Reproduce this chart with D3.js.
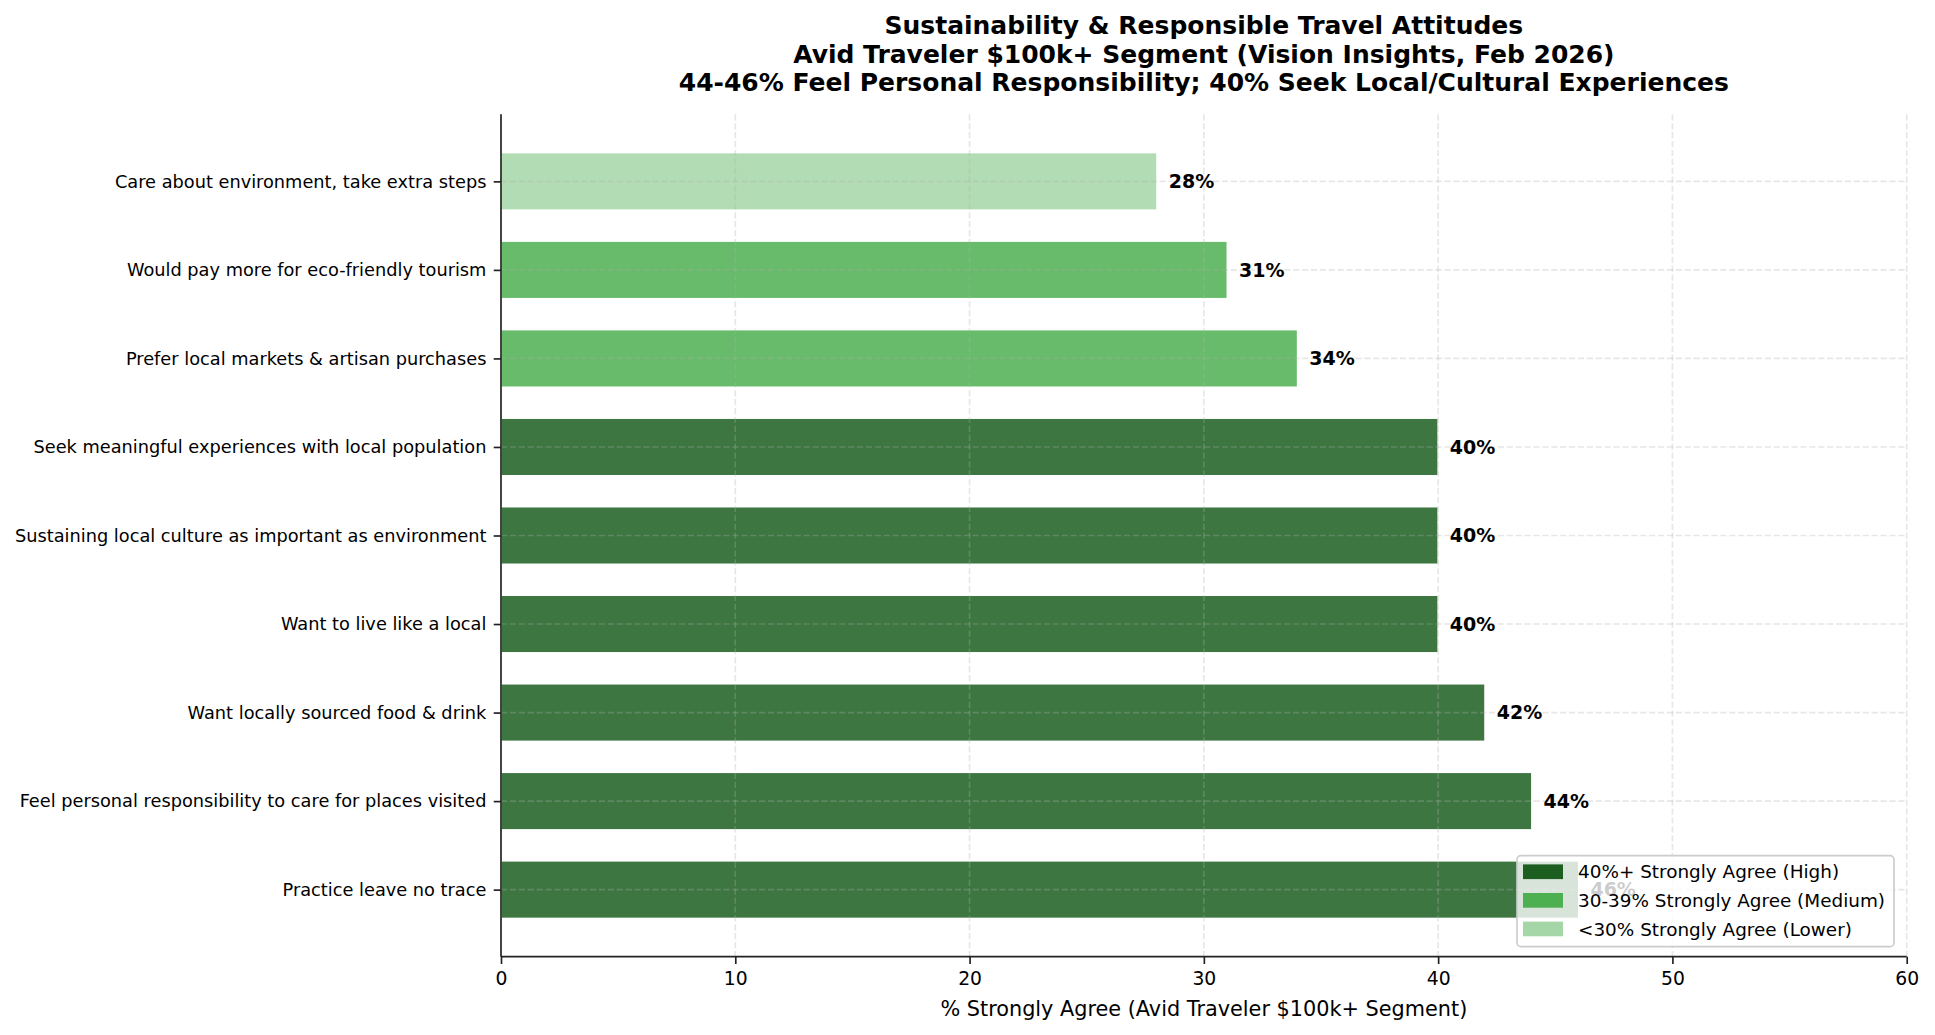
<!DOCTYPE html>
<html>
<head>
<meta charset="utf-8">
<script src="https://cdn.jsdelivr.net/npm/d3@7"></script>
<style>
  body { margin: 0; background: #fff; }
  svg { display: block; font-family: "DejaVu Sans", sans-serif; }
</style>
</head>
<body>
<div id="chart"></div>
<script>
// data, top bar first
const attitudes = [
    "Care about environment, take extra steps",
    "Would pay more for eco-friendly tourism",
    "Prefer local markets & artisan purchases",
    "Seek meaningful experiences with local population",
    "Sustaining local culture as important as environment",
    "Want to live like a local",
    "Want locally sourced food & drink",
    "Feel personal responsibility to care for places visited",
    "Practice leave no trace"
];
const strongly_agree = [28, 31, 34, 40, 40, 40, 42, 44, 46];

const tier_names = ["40%+ Strongly Agree (High)", "30-39% Strongly Agree (Medium)", "<30% Strongly Agree (Lower)"];
const tier_colors = ["#1b5e20", "#4caf50", "#a5d6a7"];
const x_ticks = [0, 10, 20, 30, 40, 50, 60];

const title_lines = [
    "Sustainability & Responsible Travel Attitudes",
    "Avid Traveler $100k+ Segment (Vision Insights, Feb 2026)",
    "44-46% Feel Personal Responsibility; 40% Seek Local/Cultural Experiences"
];

function drawChart() {
    const W = 1935, H = 1035;
    const margin = {top: 114.3, right: 28.3, bottom: 78.3, left: 501};
    const w = W - margin.left - margin.right;
    const h = H - margin.top - margin.bottom;
    const bar_h = 0.65;
    const font = "'DejaVu Sans', sans-serif";

    let tier = function (v) {
        if (v >= 40) return 0;
        if (v >= 30) return 1;
        return 2;
    }

    let svg = d3.select("#chart")
        .append("svg")
        .attr("width", W)
        .attr("height", H);

    let g = svg.append("g")
        .attr("transform", "translate(" + margin.left + "," + margin.top + ")");

    const n = attitudes.length;
    const pad = 0.05 * (n - 1 + bar_h);

    let x = d3.scaleLinear().domain([0, 60]).range([0, w]);
    let y = d3.scaleLinear()
        .domain([-bar_h / 2 - pad, n - 1 + bar_h / 2 + pad])
        .range([0, h]);

    // bars
    g.selectAll("rect.bar")
        .data(strongly_agree)
        .join("rect")
        .attr("class", "bar")
        .attr("x", x(0))
        .attr("y", (d, i) => y(i - bar_h / 2))
        .attr("width", (d) => x(d) - x(0))
        .attr("height", y(bar_h) - y(0))
        .attr("fill", (d) => tier_colors[tier(d)])
        .attr("fill-opacity", 0.85)
        .attr("stroke", "white")
        .attr("stroke-width", 1.5);

    // grid on top of bars
    let grid = g.append("g")
        .attr("stroke", "#b0b0b0")
        .attr("stroke-opacity", 0.3)
        .attr("stroke-width", 1.67)
        .attr("stroke-dasharray", "6.2,2.7");
    grid.selectAll("line.vg")
        .data(x_ticks)
        .join("line")
        .attr("x1", (d) => x(d)).attr("x2", (d) => x(d))
        .attr("y1", 0).attr("y2", h);
    grid.selectAll("line.hg")
        .data(attitudes)
        .join("line")
        .attr("x1", 0).attr("x2", w)
        .attr("y1", (d, i) => y(i)).attr("y2", (d, i) => y(i));

    // value labels
    g.selectAll("text.val")
        .data(strongly_agree)
        .join("text")
        .attr("class", "val")
        .attr("x", (d) => x(d + 0.5))
        .attr("y", (d, i) => y(i))
        .attr("dy", "0.36em")
        .style("font-size", "19px")
        .style("font-weight", "bold")
        .attr("fill", "black")
        .text((d) => d + "%");

    // axes
    let xAxis = g.append("g")
        .attr("transform", "translate(0," + h + ")")
        .call(d3.axisBottom(x).tickValues(x_ticks).tickSize(7.3).tickPadding(7.3));
    xAxis.attr("font-family", font);
    xAxis.selectAll("text").style("font-size", "18.75px").attr("fill", "black");

    let yAxis = g.append("g")
        .call(d3.axisLeft(y).tickValues(d3.range(n)).tickFormat((i) => attitudes[i]).tickSize(7.3).tickPadding(7.3));
    yAxis.attr("font-family", font);
    yAxis.selectAll("text").style("font-size", "17.75px").attr("fill", "black");

    [xAxis, yAxis].forEach(function (a) {
        a.select(".domain").attr("stroke", "#222").attr("stroke-width", 1.67);
        a.selectAll(".tick line").attr("stroke", "#222").attr("stroke-width", 1.67);
    });
    yAxis.select(".domain").attr("d", "M0,0V" + h);
    xAxis.select(".domain").attr("d", "M0,0H" + w);

    // axis label
    g.append("text")
        .attr("x", w / 2)
        .attr("y", h + 59)
        .attr("text-anchor", "middle")
        .style("font-size", "20.8px")
        .attr("fill", "black")
        .text("% Strongly Agree (Avid Traveler $100k+ Segment)");

    // title
    svg.append("text")
        .attr("x", margin.left + w / 2)
        .attr("text-anchor", "middle")
        .style("font-size", "25px")
        .style("font-weight", "bold")
        .attr("fill", "black")
        .selectAll("tspan")
        .data(title_lines)
        .join("tspan")
        .attr("x", margin.left + w / 2)
        .attr("y", (d, i) => 34 + i * 28.5)
        .text((d) => d);

    // legend
    let leg = g.append("g");
    let legBox = leg.append("rect")
        .attr("fill", "white")
        .attr("fill-opacity", 0.8)
        .attr("stroke", "#cccccc")
        .attr("stroke-width", 1.67)
        .attr("rx", 4);
    let items = leg.selectAll("g.item")
        .data(tier_names)
        .join("g")
        .attr("class", "item")
        .attr("transform", (d, i) => "translate(0," + (i * 28.6) + ")");
    items.append("rect")
        .attr("x", 6).attr("y", -7.3)
        .attr("width", 40).attr("height", 14.7)
        .attr("fill", (d, i) => tier_colors[i]);
    items.append("text")
        .attr("x", 61)
        .attr("dy", "0.36em")
        .style("font-size", "18.4px")
        .attr("fill", "black")
        .text((d) => d);
    let maxText = d3.max(items.selectAll("text").nodes(), (nd) => nd.getComputedTextLength());
    const boxW = 61 + maxText + 9;
    const boxH = 91;
    legBox.attr("x", 0).attr("y", -16).attr("width", boxW).attr("height", boxH);
    leg.attr("transform", "translate(" + (w - 12.7 - boxW) + "," + (h - 10 - boxH + 16) + ")");
}
drawChart();
</script>
</body>
</html>
